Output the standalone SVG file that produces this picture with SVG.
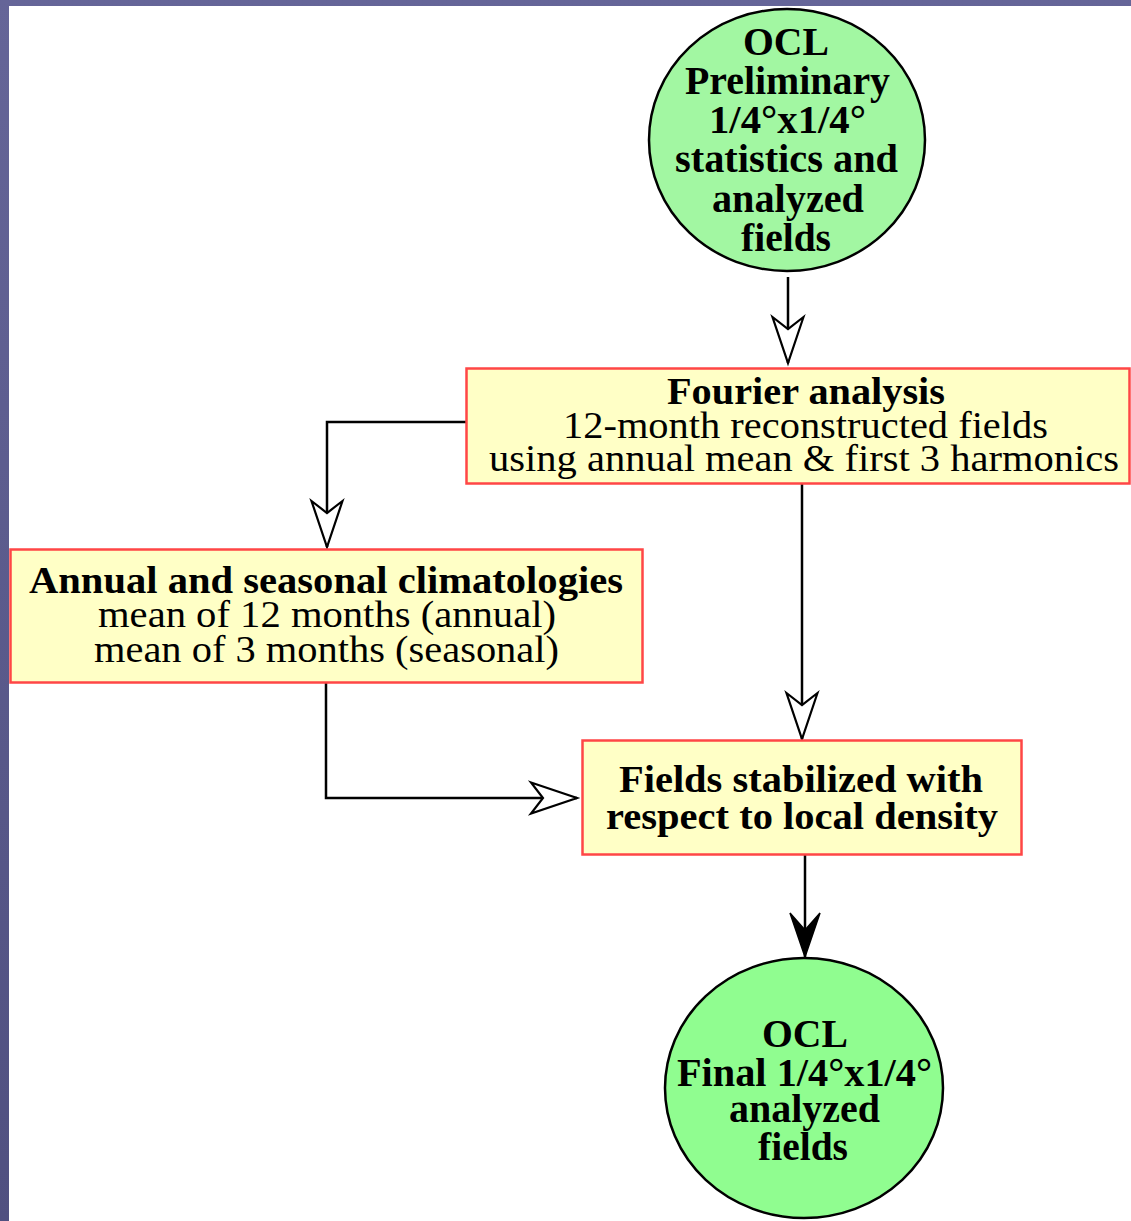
<svg xmlns="http://www.w3.org/2000/svg" width="1131" height="1221" viewBox="0 0 1131 1221">
  <defs>
    <linearGradient id="bg" x1="0" y1="0" x2="0" y2="1">
      <stop offset="0" stop-color="#656598"/>
      <stop offset="1" stop-color="#505080"/>
    </linearGradient>
    <marker id="open" viewBox="-50 -20 54 40" refX="0" refY="0" markerWidth="54" markerHeight="40" markerUnits="userSpaceOnUse" orient="auto">
      <path d="M-46,-15.5 L0,0 L-46,15.5 L-34,0 Z" fill="#fff" stroke="#000" stroke-width="2.2" stroke-linejoin="miter"/>
    </marker>
    <marker id="solid" viewBox="-50 -20 54 40" refX="0" refY="0" markerWidth="54" markerHeight="40" markerUnits="userSpaceOnUse" orient="auto">
      <path d="M-44,-15 L0,0 L-44,15 L-27,0 Z" fill="#000" stroke="#000" stroke-width="1.5"/>
    </marker>
  </defs>
  <style>
    .box { fill: #ffffc6; stroke: #ff4646; stroke-width: 2.5; }
    .circ1 { fill: #a2f7a2; stroke: #000; stroke-width: 2.5; }
    .circ2 { fill: #90fd90; stroke: #000; stroke-width: 2.5; }
    text { font-family: "Liberation Serif", "Times New Roman", serif; font-size: 40px; fill: #000; text-anchor: middle; }
    .s { font-size: 38px; }
    .b { font-weight: bold; }
    .conn { fill: none; stroke: #000; stroke-width: 2.5; }
  </style>

  <rect x="0" y="0" width="1131" height="1221" fill="url(#bg)"/>
  <rect x="9" y="6" width="1122" height="1215" fill="#fff"/>

  <g id="connectors">
    <path class="conn" d="M788,277 L788,363" marker-end="url(#open)"/>
    <path class="conn" d="M466,422 L327,422 L327,547" marker-end="url(#open)"/>
    <path class="conn" d="M802,484 L802,739" marker-end="url(#open)"/>
    <path class="conn" d="M326,683 L326,798 L577,798" marker-end="url(#open)"/>
    <path class="conn" d="M805,855 L805,957" marker-end="url(#solid)"/>
  </g>

  <g id="ocl-preliminary">
    <ellipse class="circ1" cx="787" cy="140" rx="138" ry="131"/>
    <text class="b" x="786" y="55" textLength="86" lengthAdjust="spacingAndGlyphs">OCL</text>
    <text class="b" x="787.5" y="94" textLength="205" lengthAdjust="spacingAndGlyphs">Preliminary</text>
    <text class="b" x="787.5" y="133" textLength="157" lengthAdjust="spacingAndGlyphs">1/4°x1/4°</text>
    <text class="b" x="786.5" y="172" textLength="223" lengthAdjust="spacingAndGlyphs">statistics and</text>
    <text class="b" x="788" y="212" textLength="152" lengthAdjust="spacingAndGlyphs">analyzed</text>
    <text class="b" x="786" y="251" textLength="90" lengthAdjust="spacingAndGlyphs">fields</text>
  </g>

  <g id="fourier">
    <rect class="box" x="466.5" y="368.5" width="663" height="115"/>
    <text class="b s" x="806" y="404" textLength="278" lengthAdjust="spacingAndGlyphs">Fourier analysis</text>
    <text class="s" x="805.5" y="438" textLength="485" lengthAdjust="spacingAndGlyphs">12-month reconstructed fields</text>
    <text class="s" x="804" y="471" textLength="630" lengthAdjust="spacingAndGlyphs">using annual mean &amp; first 3 harmonics</text>
  </g>

  <g id="annual-seasonal">
    <rect class="box" x="10.5" y="549.5" width="632" height="133"/>
    <text class="b s" x="326" y="593" textLength="594" lengthAdjust="spacingAndGlyphs">Annual and seasonal climatologies</text>
    <text class="s" x="327" y="627" textLength="458" lengthAdjust="spacingAndGlyphs">mean of 12 months (annual)</text>
    <text class="s" x="326.5" y="662" textLength="465" lengthAdjust="spacingAndGlyphs">mean of 3 months (seasonal)</text>
  </g>

  <g id="stabilized">
    <rect class="box" x="582.5" y="740.5" width="439" height="114"/>
    <text class="b s" x="801" y="792" textLength="364" lengthAdjust="spacingAndGlyphs">Fields stabilized with</text>
    <text class="b s" x="802" y="829" textLength="392" lengthAdjust="spacingAndGlyphs">respect to local density</text>
  </g>

  <g id="ocl-final">
    <ellipse class="circ2" cx="804" cy="1088" rx="139" ry="130"/>
    <text class="b" x="805" y="1047" textLength="86" lengthAdjust="spacingAndGlyphs">OCL</text>
    <text class="b" x="804.5" y="1086" textLength="255" lengthAdjust="spacingAndGlyphs">Final 1/4°x1/4°</text>
    <text class="b" x="804.5" y="1122" textLength="151" lengthAdjust="spacingAndGlyphs">analyzed</text>
    <text class="b" x="803" y="1160" textLength="90" lengthAdjust="spacingAndGlyphs">fields</text>
  </g>
</svg>
